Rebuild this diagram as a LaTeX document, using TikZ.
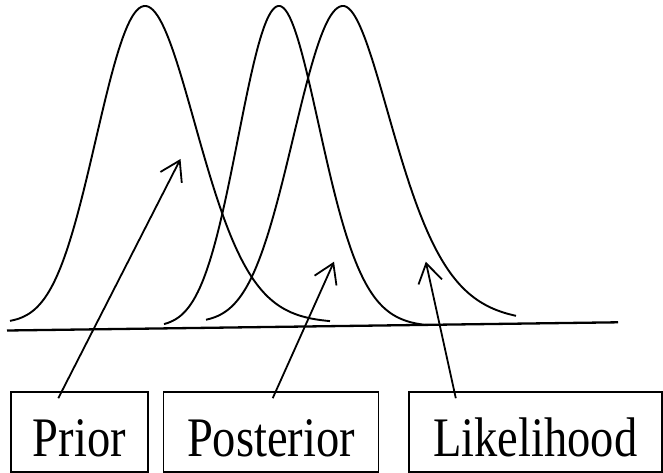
\documentclass[tikz,border=0pt]{standalone}
\usepackage{fontspec}
\setmainfont{Liberation Serif}
\usetikzlibrary{arrows.meta}
\begin{document}
\begin{tikzpicture}[x=1pt,y=-1pt,
  curve/.style={line width=1.9pt, smooth, samples=140},
  lbox/.style={draw, line width=1.6pt, minimum height=80pt, inner sep=0pt,
    text height=48pt, text depth=0pt,
    font=\fontsize{46.5}{50}\selectfont},
  arr/.style={line width=1.8pt, -{Straight Barb[length=19pt,width=24pt]}}]
\useasboundingbox (0,0) rectangle (663,473);
% axis
\coordinate (axL) at (7,330.5);
\coordinate (axR) at (618,322.3);
\draw[line width=2.3pt] (axL) -- (axR);
% prior
\draw[curve, domain=10:330] plot (\x,{323-317*exp(-0.5*((\x-145)/(ifthenelse(\x<145,49.5-0.05*abs(\x-145),49.5+0.045*abs(\x-145))))^2)});
% posterior
\draw[curve, domain=164:424] plot (\x,{327-321*exp(-0.5*((\x-279)/(ifthenelse(\x<279,41-0.03*abs(\x-279),39.5+0.045*abs(\x-279))))^2)});
% likelihood
\draw[curve, domain=206:516] plot (\x,{322.5-316.5*exp(-0.5*((\x-343)/(ifthenelse(\x<343,50-0.04*abs(\x-343),45+0.1*abs(\x-343))))^2)});
% boxes
\node[lbox, minimum width=137pt] (prior) at (79.3,432) {\scalebox{1}[1.2]{Prior}};
\node[lbox, minimum width=215pt] (post) at (271,432) {\scalebox{1}[1.2]{Posterior}};
\node[lbox, minimum width=253pt] (like) at (535.3,432) {\scalebox{1}[1.2]{Likelihood}};
% arrow tips
\coordinate (tprior) at (180.5,159);
\coordinate (tpost) at (334,261.7);
\coordinate (tlike) at (425.8,261.7);
\draw[arr] ([xshift=-21pt,yshift=-7pt]prior.north) -- (tprior);
\draw[arr] ([xshift=1.7pt,yshift=-7pt]post.north) -- (tpost);
\draw[arr] ([xshift=-79.5pt,yshift=-7pt]like.north) -- (tlike);
\end{tikzpicture}
\end{document}
